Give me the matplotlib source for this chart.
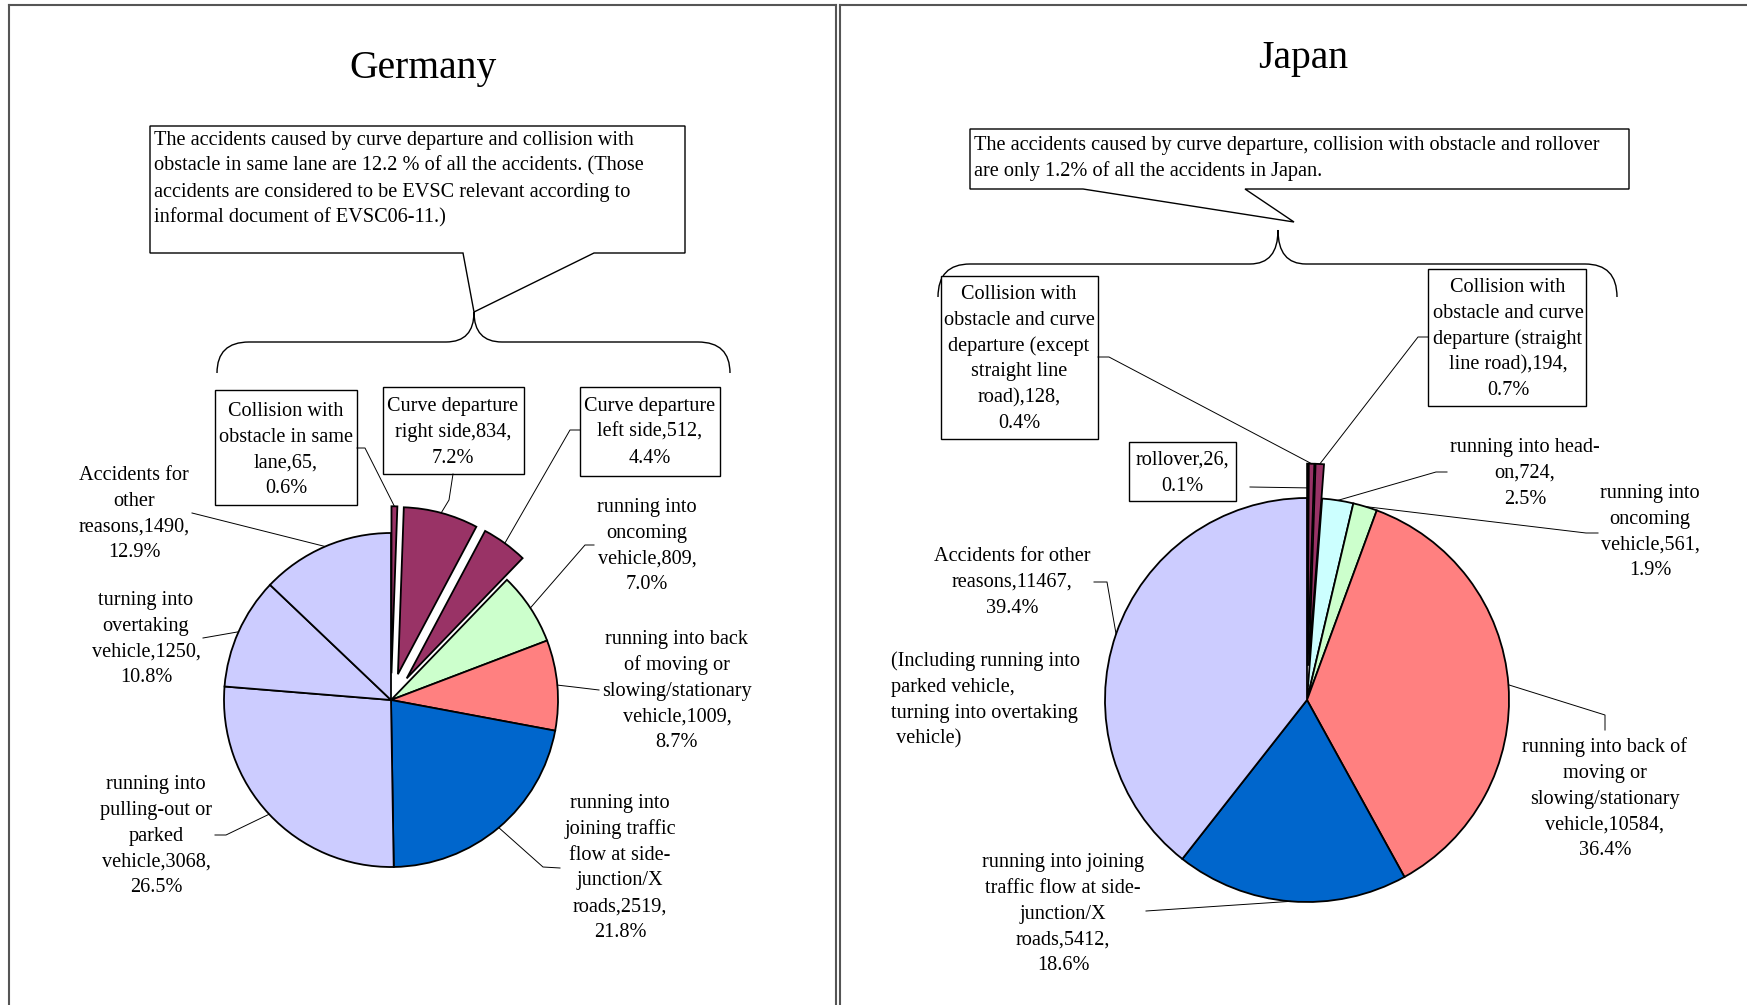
import numpy as np
import matplotlib
matplotlib.use("Agg")
import matplotlib.pyplot as plt
from matplotlib.patches import Rectangle, Polygon, PathPatch
from matplotlib.path import Path

plt.rcParams['font.family'] = ['Liberation Serif', 'DejaVu Serif']

# ---------------- data ----------------
de_title = "Germany"
de_names = ["Collision with\nobstacle in same\nlane",
            "Curve departure\nright side",
            "Curve departure\nleft side",
            "running into\noncoming\nvehicle",
            "running into back\nof moving or\nslowing/stationary\nvehicle",
            "running into\njoining traffic\nflow at side-\njunction/X\nroads",
            "running into\npulling-out or\nparked\nvehicle",
            "turning into\novertaking\nvehicle",
            "Accidents for\nother\nreasons"]
de_values = [65, 834, 512, 809, 1009, 2519, 3068, 1250, 1490]
de_colors = ["#993366", "#993366", "#993366", "#CCFFCC", "#FF8080",
             "#0066CC", "#CCCCFF", "#CCCCFF", "#CCCCFF"]
de_explode = [0.16, 0.16, 0.16, 0, 0, 0, 0, 0, 0]
de_note = ("The accidents caused by curve departure and collision with\n"
           "obstacle in same lane are 12.2 % of all the accidents. (Those\n"
           "accidents are considered to be EVSC relevant according to\n"
           "informal document of EVSC06-11.)")

jp_title = "Japan"
jp_names = ["rollover",
            "Collision with\nobstacle and curve\ndeparture (except\nstraight line\nroad)",
            "Collision with\nobstacle and curve\ndeparture (straight\nline road)",
            "running into head-\non",
            "running into\noncoming\nvehicle",
            "running into back of\nmoving or\nslowing/stationary\nvehicle",
            "running into joining\ntraffic flow at side-\njunction/X\nroads",
            "Accidents for other\nreasons"]
jp_values = [26, 128, 194, 724, 561, 10584, 5412, 11467]
jp_colors = ["#993366", "#993366", "#993366", "#CCFFFF", "#CCFFCC",
             "#FF8080", "#0066CC", "#CCCCFF"]
jp_explode = [0.17, 0.17, 0.17, 0, 0, 0, 0, 0]
jp_note = ("The accidents caused by curve departure, collision with obstacle and rollover\n"
           "are only 1.2% of all the accidents in Japan.")
jp_extra = "(Including running into\nparked vehicle,\nturning into overtaking\n vehicle)"

# ---------------- figure ----------------
W, H = 1747, 1005
fig = plt.figure(figsize=(W / 100, H / 100), dpi=100)
fig.patch.set_facecolor("white")

FS = 14.6
PITCH = 25.8


def pie_axes(cx, cy, R, L=1.35):
    s = 2 * L * R
    ax = fig.add_axes([(cx - L * R) / W, (H - cy - L * R) / H, s / W, s / H])
    return ax, L


def make_pie(cx, cy, R, values, colors, explode):
    ax, L = pie_axes(cx, cy, R)
    wedges, _ = ax.pie(values, colors=colors, explode=explode, startangle=90,
                       counterclock=False, radius=1.0,
                       wedgeprops=dict(edgecolor="black", linewidth=1.3))
    ax.set_xlim(-L, L)
    ax.set_ylim(-L, L)
    ax.axis("off")
    return ax, wedges


ax_de, w_de = make_pie(391, 700, 167, de_values, de_colors, de_explode)
ax_jp, w_jp = make_pie(1307, 700, 202, jp_values, jp_colors, jp_explode)

ov = fig.add_axes([0, 0, 1, 1], zorder=5)
ov.set_xlim(0, W)
ov.set_ylim(H, 0)
ov.axis("off")
ov.patch.set_visible(False)

fig.canvas.draw()


def wedge_point(ax, wedge, rf=1.0):
    th = np.deg2rad((wedge.theta1 + wedge.theta2) / 2.0)
    cx, cy = wedge.center
    p = (cx + rf * wedge.r * np.cos(th), cy + rf * wedge.r * np.sin(th))
    d = ax.transData.transform(p)
    return ov.transData.inverted().transform(d)


def mtext(x, y0, text, ha="center", size=FS):
    for i, line in enumerate(text.split("\n")):
        ov.text(x, y0 + i * PITCH, line, ha=ha, va="baseline", fontsize=size,
                color="black")


def label_text(name, v, total):
    return f"{name},{v},\n{100.0 * v / total:.1f}%"


# ---------------- panel borders ----------------
ov.plot([9, 9], [5, H], color="#555555", lw=1.5)
ov.plot([9, 836], [5, 5], color="#555555", lw=1.5)
ov.plot([836, 836], [5, H], color="#555555", lw=1.5)
ov.plot([840, 840], [5, H], color="#555555", lw=1.5)
ov.plot([840, W], [5, 5], color="#555555", lw=1.5)

# ---------------- titles ----------------
ov.text(423, 78, de_title, ha="center", va="baseline", fontsize=28.5)
ov.text(1303, 68, jp_title, ha="center", va="baseline", fontsize=28.5)

# ---------------- callout notes ----------------
de_call = [(150, 126), (685, 126), (685, 253), (594, 253), (474, 312),
           (463, 253), (150, 253)]
ov.add_patch(Polygon(de_call, closed=True, facecolor="white",
                     edgecolor="black", lw=1.0))
mtext(154, 145, de_note, ha="left")

jp_call = [(970, 129), (1629, 129), (1629, 189), (1245, 189), (1294, 222),
           (1083, 189), (970, 189)]
ov.add_patch(Polygon(jp_call, closed=True, facecolor="white",
                     edgecolor="black", lw=1.0))
mtext(974, 150, jp_note, ha="left")


def brace(x0, x1, xm, ytop, ybar, yend):
    verts = [(x0, yend), (x0, ybar), (x0 + 32, ybar), (xm - 28, ybar),
             (xm, ybar), (xm, ytop), (xm, ybar), (xm + 28, ybar),
             (x1 - 32, ybar), (x1, ybar), (x1, yend)]
    codes = [Path.MOVETO, Path.CURVE3, Path.CURVE3, Path.LINETO,
             Path.CURVE3, Path.CURVE3, Path.CURVE3, Path.CURVE3,
             Path.LINETO, Path.CURVE3, Path.CURVE3]
    ov.add_patch(PathPatch(Path(verts, codes), facecolor="none",
                           edgecolor="black", lw=1.0))


brace(217, 730, 474, 312, 342, 373)
brace(938, 1617, 1278, 230, 264, 297)

# ---------------- data labels ----------------
# (x, first baseline, ha, box rect (x0,y0,x1,y1) or None, leader points, rf)
de_layout = [
    (286, 416, "center", (215, 390, 357, 505), [(357, 448), (365, 448)], 1.0),
    (453, 411, "center", (383, 387, 524, 474), [(453, 474), (449, 500)], 1.0),
    (650, 411, "center", (580, 387, 720, 476), [(580, 430), (570, 430)], 1.0),
    (647, 512, "center", None, [(594, 545), (585, 545)], 1.0),
    (677, 644, "center", None, [(599, 690), (574, 687)], 1.0),
    (620, 808, "center", None, [(560, 868), (543, 867)], 1.0),
    (156, 789, "center", None, [(215, 835), (226, 835)], 1.0),
    (146, 605, "center", None, [(203, 638)], 1.0),
    (134, 480, "center", None, [(192, 513)], 1.0),
]
jp_layout = [
    (1182, 465, "center", (1129, 442, 1236, 501), [(1250, 487)], 0.88),
    (1019, 299, "center", (941, 276, 1098, 439), [(1098, 357), (1109, 357)], 1.0),
    (1508, 292, "center", (1428, 269, 1586, 406), [(1428, 337), (1418, 337)], 1.0),
    (1525, 452, "center", None, [(1447, 472), (1436, 472)], 1.0),
    (1650, 498, "center", None, [(1598, 533), (1586, 533)], 1.0),
    (1605, 752, "center", None, [(1605, 730), (1605, 715)], 1.0),
    (1063, 867, "center", None, [(1146, 911)], 1.0),
    (1012, 561, "center", None, [(1094, 582), (1107, 582)], 1.0),
]


def draw_labels(ax, wedges, names, values, layout):
    total = float(sum(values))
    for w, n, v, (x, y0, ha, box, pts, rf) in zip(wedges, names, values, layout):
        end = wedge_point(ax, w, rf)
        xs = [p[0] for p in pts] + [end[0]]
        ys = [p[1] for p in pts] + [end[1]]
        ov.plot(xs, ys, color="black", lw=0.7)
        if box is not None:
            ov.add_patch(Rectangle((box[0], box[1]), box[2] - box[0],
                                   box[3] - box[1], facecolor="white",
                                   edgecolor="black", lw=1.0))
        mtext(x, y0, label_text(n, v, total), ha=ha)


draw_labels(ax_de, w_de, de_names, de_values, de_layout)
draw_labels(ax_jp, w_jp, jp_names, jp_values, jp_layout)

mtext(891, 666, jp_extra, ha="left")

fig.savefig("out.png", dpi=100, facecolor="white")
